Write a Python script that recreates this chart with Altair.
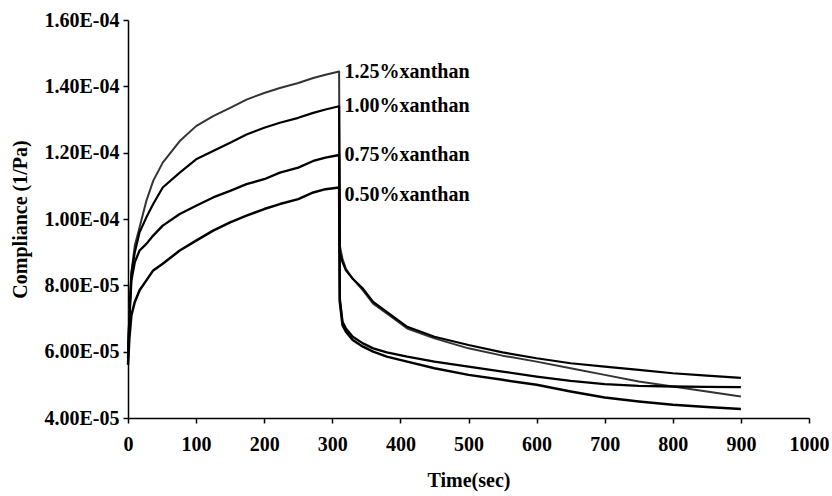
import altair as alt
import pandas as pd

# ---- data ----
creep_t = [0, 2, 5, 10, 17, 27, 37, 51, 76, 100, 125, 150, 174, 200, 223, 250, 272, 290, 310]
recov_t = [311, 315, 320, 330, 345, 360, 380, 410, 450, 500, 550, 600, 650, 700, 750, 800, 850, 900]

# compliance values in 1e-5 1/Pa
c125_creep = [5.9, 7.2, 8.4, 9.2, 9.75, 10.55, 11.15, 11.7, 12.35, 12.8, 13.1, 13.35, 13.6, 13.8, 13.95, 14.1, 14.25, 14.35, 14.45]
c100_creep = [5.9, 7.0, 8.35, 9.0, 9.6, 10.05, 10.45, 10.95, 11.4, 11.8, 12.05, 12.3, 12.55, 12.75, 12.9, 13.05, 13.2, 13.3, 13.4]
c075_creep = [5.8, 7.0, 8.15, 8.7, 9.05, 9.25, 9.5, 9.8, 10.15, 10.4, 10.65, 10.85, 11.05, 11.2, 11.4, 11.55, 11.75, 11.85, 11.93]
c050_creep = [5.6, 6.4, 7.1, 7.5, 7.85, 8.15, 8.45, 8.65, 9.05, 9.35, 9.65, 9.9, 10.1, 10.3, 10.45, 10.6, 10.8, 10.9, 10.95]

c125_recov = [9.2, 8.8, 8.5, 8.2, 7.85, 7.45, 7.15, 6.7, 6.4, 6.1, 5.88, 5.7, 5.5, 5.3, 5.1, 4.95, 4.8, 4.65]
c100_recov = [9.0, 8.7, 8.45, 8.2, 7.9, 7.5, 7.2, 6.75, 6.45, 6.2, 5.98, 5.8, 5.65, 5.55, 5.45, 5.35, 5.28, 5.21]
c075_recov = [7.6, 6.9, 6.7, 6.45, 6.25, 6.1, 5.98, 5.85, 5.7, 5.55, 5.4, 5.25, 5.12, 5.02, 4.97, 4.95, 4.94, 4.93]
c050_recov = [7.5, 6.8, 6.6, 6.35, 6.15, 6.0, 5.85, 5.7, 5.5, 5.3, 5.15, 5.0, 4.8, 4.62, 4.5, 4.4, 4.33, 4.27]

series_names = ["1.25%xanthan", "1.00%xanthan", "0.75%xanthan", "0.50%xanthan"]
label_values = [14.43, 13.41, 11.93, 10.72]  # where the text labels sit (1e-5 1/Pa)
label_time = 318

x_ticks = [0, 100, 200, 300, 400, 500, 600, 700, 800, 900, 1000]
y_ticks = [4e-5, 6e-5, 8e-5, 1.0e-4, 1.2e-4, 1.4e-4, 1.6e-4]

# ---- build tables ----
rows = []
all_t = creep_t + recov_t
for name, cv, rv in zip(series_names,
                        [c125_creep, c100_creep, c075_creep, c050_creep],
                        [c125_recov, c100_recov, c075_recov, c050_recov]):
    for i, (t, v) in enumerate(zip(all_t, cv + rv)):
        rows.append({"series": name, "t": t, "J": v * 1e-5, "order": i})
df = pd.DataFrame(rows)

labels = pd.DataFrame({"series": series_names,
                       "t": [label_time] * 4,
                       "J": [v * 1e-5 for v in label_values]})

font = "Liberation Serif"

x_enc = alt.X("t:Q", scale=alt.Scale(domain=[0, 1000], nice=False),
              axis=alt.Axis(values=x_ticks, title="Time(sec)", grid=False, format="d",
                            labelFlush=False, labelOverlap=False,
                            labelPadding=11, titlePadding=16))
y_enc = alt.Y("J:Q", scale=alt.Scale(domain=[4e-5, 1.6e-4], nice=False, zero=False),
              axis=alt.Axis(values=y_ticks, title="Compliance (1/Pa)", grid=False,
                            labelFlush=False, labelOverlap=False,
                            labelPadding=4, titlePadding=14,
                            labelExpr="datum.value >= 9.9e-5 ? format(datum.value*1e4, '.2f') + 'E-04' : format(datum.value*1e5, '.2f') + 'E-05'"))

lines = alt.Chart(df).mark_line(strokeJoin="round").encode(
    x=x_enc,
    y=y_enc,
    detail="series:N",
    order="order:Q",
    color=alt.Color("series:N", legend=None,
                    scale=alt.Scale(domain=series_names,
                                    range=["#333333", "#000000", "#000000", "#000000"])),
    strokeWidth=alt.StrokeWidth("series:N", legend=None,
                                scale=alt.Scale(domain=series_names,
                                                range=[2.0, 2.5, 2.5, 2.5])),
)

text = alt.Chart(labels).mark_text(align="left", baseline="middle", font=font,
                                   fontWeight="bold", fontSize=20, color="black").encode(
    x="t:Q", y="J:Q", text="series:N")

chart = alt.layer(lines, text).properties(
    width=681, height=398,
    padding={"left": 128, "top": 20, "right": 23, "bottom": 78},
    autosize=alt.AutoSizeParams(type="none"),
    background="white",
).configure_view(stroke=None).configure_axis(
    domainColor="black", tickColor="black", domainWidth=1.5, tickWidth=1.5,
    tickSize=5, labelFont=font, labelFontWeight="bold", labelFontSize=20,
    labelColor="black", titleFont=font, titleFontWeight="bold", titleFontSize=20,
    titleColor="black",
)

chart.save("out.html", embed_options={"renderer": "svg", "actions": False})
